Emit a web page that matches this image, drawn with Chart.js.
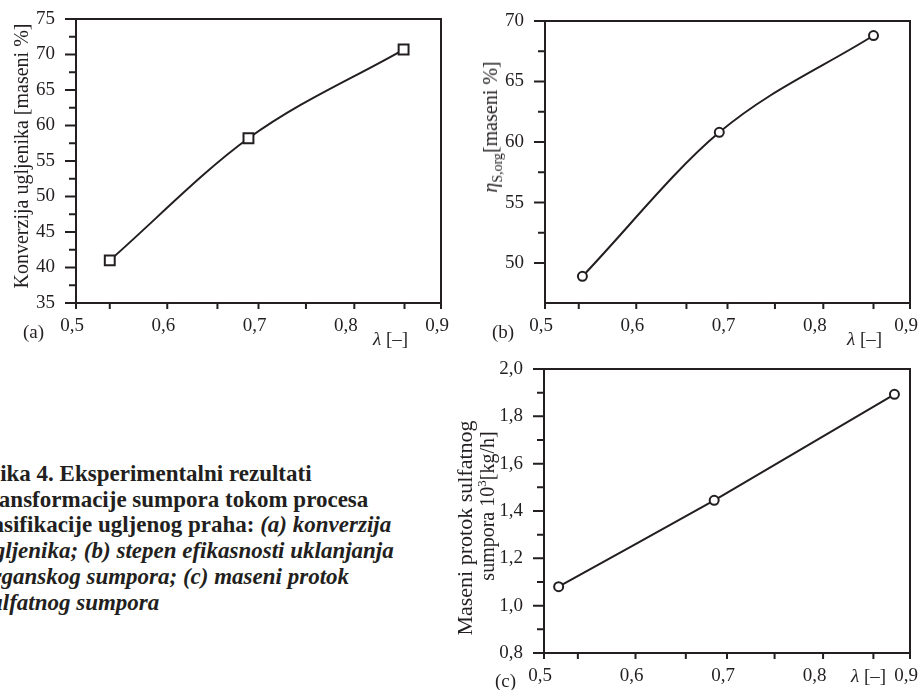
<!DOCTYPE html>
<html>
<head>
<meta charset="utf-8">
<script src="https://cdn.jsdelivr.net/npm/chart.js@4.4.1/dist/chart.umd.min.js"></script>
<style>
  html, body { margin: 0; padding: 0; background: #fff; }
  body { width: 920px; height: 690px; position: relative; overflow: hidden;
         font-family: 'Liberation Serif', 'Times New Roman', serif; color: #231f20; }
  .box { position: absolute; width: 460px; height: 345px; }
  .lbl { position: absolute; font-size: 19px; white-space: nowrap; line-height: 1; }
  .ytitle { position: absolute; font-size: 20px; white-space: nowrap; line-height: 1;
            transform: translate(-50%, -50%) rotate(-90deg); }
  .ytitle sub { font-size: 14px; vertical-align: -5px; line-height: 0; }
  .ytitle sup { font-size: 13px; vertical-align: 8px; line-height: 0; }
  .caption { position: absolute; left: -19px; top: 461px; font-size: 23px; font-weight: bold;
             line-height: 25.7px; white-space: nowrap; }
</style>
</head>
<body>
<div class="box" style="left:0; top:0"><canvas id="chartA" width="460" height="345"></canvas></div>
<div class="box" style="left:460px; top:0"><canvas id="chartB" width="460" height="345"></canvas></div>
<div class="box" style="left:460px; top:345px"><canvas id="chartC" width="460" height="345"></canvas></div>

<!-- axis titles -->
<div class="ytitle" style="left:21px; top:156px">Konverzija ugljenika [maseni %]</div>
<div class="ytitle" style="left:490px; top:127px"><i>η</i><sub>S,org</sub>[maseni %]</div>
<div class="ytitle" style="left:465px; top:528px; font-size:22px">Maseni protok sulfatnog</div>
<div class="ytitle" style="left:487px; top:506px">sumpora 10<sup>3</sup>[kg/h]</div>

<div class="lbl" style="left:23px; top:322px">(a)</div>
<div class="lbl" style="left:492px; top:322px">(b)</div>
<div class="lbl" style="left:495px; top:671px">(c)</div>

<div class="lbl" style="left:373px; top:329px"><i>λ</i> [–]</div>
<div class="lbl" style="left:847px; top:329px"><i>λ</i> [–]</div>
<div class="lbl" style="left:851px; top:666px"><i>λ</i> [–]</div>

<div class="caption">
  Slika 4. Eksperimentalni rezultati<br>
  transformacije sumpora tokom procesa<br>
  gasifikacije ugljenog praha: <i>(a) konverzija</i><br>
  <i>ugljenika; (b) stepen efikasnosti uklanjanja</i><br>
  <i>organskog sumpora; (c) maseni protok</i><br>
  <i>sulfatnog sumpora</i>
</div>

<script>
// Data
const lambdaA = [0.537, 0.689, 0.859];
const konverzija = [41.0, 58.2, 70.7];

const lambdaB = [0.541, 0.691, 0.860];
const etaSorg = [48.9, 60.8, 68.8];

const lambdaC = [0.516, 0.686, 0.883];
const protok = [1.08, 1.445, 1.893];

// Tick labels / tick marks
const xLabels = [0.5, 0.6, 0.7, 0.8, 0.9];
const xTickMarks = [0.5, 0.537, 0.6, 0.655, 0.7, 0.752, 0.805, 0.86, 0.9];

const yLabelsA = [35, 40, 45, 50, 55, 60, 65, 70, 75];
const yMinorA = [37.5, 42.5, 47.5, 52.5, 57.5, 62.5, 67.5, 72.5];

const yLabelsB = [50, 55, 60, 65, 70];
const yMinorB = [52.5, 57.5, 62.5, 67.5];

const yLabelsC = [0.8, 1.0, 1.2, 1.4, 1.6, 1.8, 2.0];
const yMinorC = [0.9, 1.1, 1.3, 1.5, 1.7, 1.9];

const ink = '#231f20';
const serif = "'Liberation Serif', 'Times New Roman', serif";

function fmt(v, digits) {
    return v.toFixed(digits).replace('.', ',');
}

// Draws the box round the plot and the outward tick marks
const frameTicks = {
    id: 'frameTicks',
    afterDatasetsDraw(chart, args, opts) {
        const { ctx, chartArea: a } = chart;
        const x = chart.scales.x, y = chart.scales.y;
        ctx.save();
        ctx.strokeStyle = ink;
        ctx.lineWidth = 2;
        ctx.strokeRect(a.left, a.top, a.right - a.left, a.bottom - a.top);
        ctx.beginPath();
        opts.yMajor.forEach(v => {
            const p = y.getPixelForValue(v);
            ctx.moveTo(a.left - 11, p);
            ctx.lineTo(a.left, p);
        });
        opts.yMinor.forEach(v => {
            const p = y.getPixelForValue(v);
            ctx.moveTo(a.left - 7, p);
            ctx.lineTo(a.left, p);
        });
        xTickMarks.forEach(v => {
            const p = x.getPixelForValue(v);
            ctx.moveTo(p, a.bottom);
            ctx.lineTo(p, a.bottom + 6);
        });
        ctx.stroke();
        ctx.restore();
    }
};

function makeChart(id, xs, ys, c) {
    const points = xs.map((v, i) => ({ x: v, y: ys[i] }));
    return new Chart(document.getElementById(id), {
        type: 'line',
        data: {
            datasets: [{
                data: points,
                borderColor: ink,
                borderWidth: 2,
                tension: c.tension,
                cubicInterpolationMode: c.smooth ? 'monotone' : 'default',
                fill: false,
                pointStyle: c.pointStyle,
                pointRadius: c.radius,
                pointBorderWidth: 2,
                pointBorderColor: ink,
                pointBackgroundColor: '#fff'
            }]
        },
        options: {
            responsive: false,
            animation: false,
            events: [],
            layout: { padding: { left: 0, top: c.padTop, right: c.padRight, bottom: 0 } },
            plugins: {
                legend: { display: false },
                tooltip: { enabled: false },
                frameTicks: { yMajor: c.yLabels, yMinor: c.yMinor }
            },
            scales: {
                x: {
                    type: 'linear',
                    min: 0.5,
                    max: 0.9,
                    border: { display: false },
                    grid: { display: false, drawTicks: false },
                    afterBuildTicks: s => { s.ticks = xLabels.map(v => ({ value: v })); },
                    afterFit: s => { s.height = c.xHeight; s.paddingLeft = 0; s.paddingRight = 0; },
                    ticks: {
                        padding: 12,
                        labelOffset: -4,
                        maxRotation: 0,
                        autoSkip: false,
                        color: ink,
                        font: { family: serif, size: 19 },
                        callback: v => fmt(v, 1)
                    }
                },
                y: {
                    type: 'linear',
                    min: c.yMin,
                    max: c.yMax,
                    border: { display: false },
                    grid: { display: false, drawTicks: false },
                    afterBuildTicks: s => { s.ticks = c.yLabels.map(v => ({ value: v })); },
                    afterFit: s => { s.width = c.yWidth; s.paddingTop = 0; s.paddingBottom = 0; },
                    ticks: {
                        padding: 21,
                        autoSkip: false,
                        color: ink,
                        font: { family: serif, size: 19 },
                        callback: v => fmt(v, c.digits)
                    }
                }
            }
        },
        plugins: [frameTicks]
    });
}

makeChart('chartA', lambdaA, konverzija, {
    yMin: 35, yMax: 75, yLabels: yLabelsA, yMinor: yMinorA, digits: 0,
    pointStyle: 'rect', radius: 7, tension: 0.4, smooth: true,
    padTop: 19, padRight: 19, yWidth: 76, xHeight: 42
});

makeChart('chartB', lambdaB, etaSorg, {
    yMin: 46.7, yMax: 70, yLabels: yLabelsB, yMinor: yMinorB, digits: 0,
    pointStyle: 'circle', radius: 4.5, tension: 0.4, smooth: true,
    padTop: 21, padRight: 10, yWidth: 85, xHeight: 42
});

makeChart('chartC', lambdaC, protok, {
    yMin: 0.8, yMax: 2.0, yLabels: yLabelsC, yMinor: yMinorC, digits: 1,
    pointStyle: 'circle', radius: 4.5, tension: 0.05, smooth: false,
    padTop: 24, padRight: 10, yWidth: 84, xHeight: 37
});
</script>
</body>
</html>
